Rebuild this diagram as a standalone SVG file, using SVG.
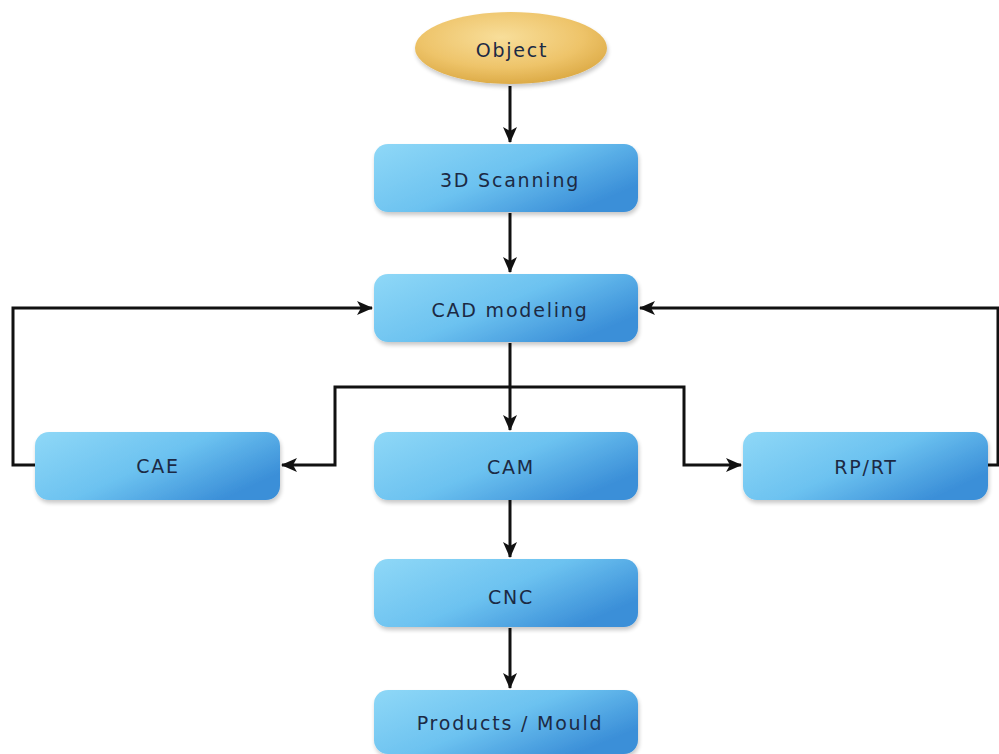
<svg xmlns="http://www.w3.org/2000/svg" width="999" height="754" viewBox="0 0 999 754">
<defs>
<linearGradient id="bg" x1="0" y1="0" x2="1" y2="0.6">
<stop offset="0" stop-color="#8fd8f7"/>
<stop offset="0.55" stop-color="#6cc2f0"/>
<stop offset="1" stop-color="#3b8fd8"/>
</linearGradient>
<radialGradient id="og" cx="0.45" cy="0.35" r="0.7">
<stop offset="0" stop-color="#f8de9a"/>
<stop offset="0.6" stop-color="#eec46a"/>
<stop offset="1" stop-color="#d9a640"/>
</radialGradient>
<filter id="sh" x="-10%" y="-10%" width="125%" height="135%">
<feGaussianBlur in="SourceAlpha" stdDeviation="2"/>
<feOffset dx="1" dy="3"/>
<feComponentTransfer><feFuncA type="linear" slope="0.22"/></feComponentTransfer>
<feMerge><feMergeNode/><feMergeNode in="SourceGraphic"/></feMerge>
</filter>
<marker id="ah" viewBox="0 0 16 14" refX="15" refY="7" markerWidth="16" markerHeight="14" markerUnits="userSpaceOnUse" orient="auto">
<path d="M0,0 L16,7 L0,14 L4,7 Z" fill="#111"/>
</marker>
</defs>
<style>
.box{fill:url(#bg);filter:url(#sh)}
.lbl{font-family:"DejaVu Sans",Verdana,sans-serif;font-size:19px;fill:#1c2a44;text-anchor:middle;dominant-baseline:central;letter-spacing:1.8px}
.c{fill:none;stroke:#111;stroke-width:3;marker-end:url(#ah)}
</style>
<rect width="999" height="754" fill="#ffffff"/>
<g id="connectors">
<path class="c" d="M510,86 V142"/>
<path class="c" d="M510,213 V272"/>
<path class="c" d="M35,465 H13 V308 H372"/>
<path class="c" d="M988,465 H998 V308 H640"/>
<path class="c" d="M510,343 V430"/>
<path class="c" d="M510,387 H335 V465 H282"/>
<path class="c" d="M510,387 H684 V465 H741"/>
<path class="c" d="M510,500 V557"/>
<path class="c" d="M510,628 V688"/>
</g>
<g id="object">
<ellipse cx="511" cy="48" rx="96" ry="36" fill="url(#og)" filter="url(#sh)"/>
<text class="lbl" x="512" y="50">Object</text>
</g>
<g id="scanning">
<rect class="box" x="374" y="144" width="264" height="68" rx="14"/>
<text class="lbl" x="510" y="180">3D Scanning</text>
</g>
<g id="cad">
<rect class="box" x="374" y="274" width="264" height="68" rx="14"/>
<text class="lbl" x="510" y="310">CAD modeling</text>
</g>
<g id="cae">
<rect class="box" x="35" y="432" width="245" height="68" rx="14"/>
<text class="lbl" x="158" y="466">CAE</text>
</g>
<g id="cam">
<rect class="box" x="374" y="432" width="264" height="68" rx="14"/>
<text class="lbl" x="511" y="467">CAM</text>
</g>
<g id="rprt">
<rect class="box" x="743" y="432" width="245" height="68" rx="14"/>
<text class="lbl" x="866" y="467">RP/RT</text>
</g>
<g id="cnc">
<rect class="box" x="374" y="559" width="264" height="68" rx="14"/>
<text class="lbl" x="511" y="597">CNC</text>
</g>
<g id="products">
<rect class="box" x="374" y="690" width="264" height="64" rx="14"/>
<text class="lbl" x="510" y="723">Products / Mould</text>
</g>
</svg>
